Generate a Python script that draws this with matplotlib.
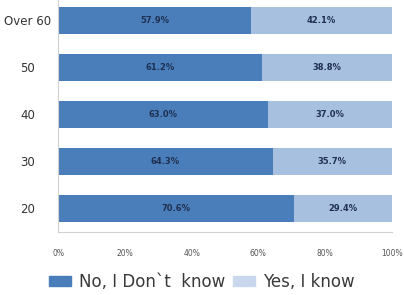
import matplotlib
matplotlib.use("Agg")
import matplotlib.pyplot as plt
from matplotlib.patches import Patch

categories = ["20", "30", "40", "50", "Over 60"]
no_vals = [70.6, 64.3, 63.0, 61.2, 57.9]
yes_vals = [29.4, 35.7, 37.0, 38.8, 42.1]
xticks = [0, 20, 40, 60, 80, 100]
series_names = ["No, I Don`t  know", "Yes, I know"]

c_no = "#4a7ebb"
c_yes = "#a8c0e0"

fig = plt.figure(figsize=(4.04, 2.95), dpi=100)
ax = fig.add_axes([0.144, 0.214, 0.826, 0.786])

y = list(range(len(categories)))
h = 0.58
ax.barh(y, no_vals, height=h, color=c_no)
ax.barh(y, yes_vals, left=no_vals, height=h, color=c_yes)

for i, (n, s) in enumerate(zip(no_vals, yes_vals)):
    ax.text(n / 2, i, f"{n:.1f}%", ha="center", va="center",
            fontsize=6, fontweight="bold", color="#1f3050")
    ax.text(n + s / 2, i, f"{s:.1f}%", ha="center", va="center",
            fontsize=6, fontweight="bold", color="#1f3050")

ax.set_xlim(0, 100)
ax.set_ylim(-0.5, 4.43)
ax.set_yticks(y)
ax.set_yticklabels(categories, fontsize=8.5, color="#333333", ha="center")
ax.set_xticks(xticks)
ax.set_xticklabels([f"{t}%" for t in xticks], fontsize=5.5, color="#555555")
ax.tick_params(axis="both", length=0)
ax.tick_params(axis="x", pad=12)
ax.tick_params(axis="y", pad=22)
for s in ["top", "right"]:
    ax.spines[s].set_visible(False)
ax.spines["left"].set_color("#d0d0d0")
ax.spines["bottom"].set_color("#d0d0d0")

handles = [Patch(color=c_no), Patch(color="#c8d7ec")]
fig.legend(handles, series_names, loc="center", bbox_to_anchor=(0.5, 0.045),
           ncol=2, frameon=False, fontsize=12, handlelength=1.3, handleheight=0.5,
           columnspacing=0.5, handletextpad=0.5, labelcolor="#3a3a3a",
           borderpad=0, borderaxespad=0)

fig.savefig("out.png", dpi=100)
